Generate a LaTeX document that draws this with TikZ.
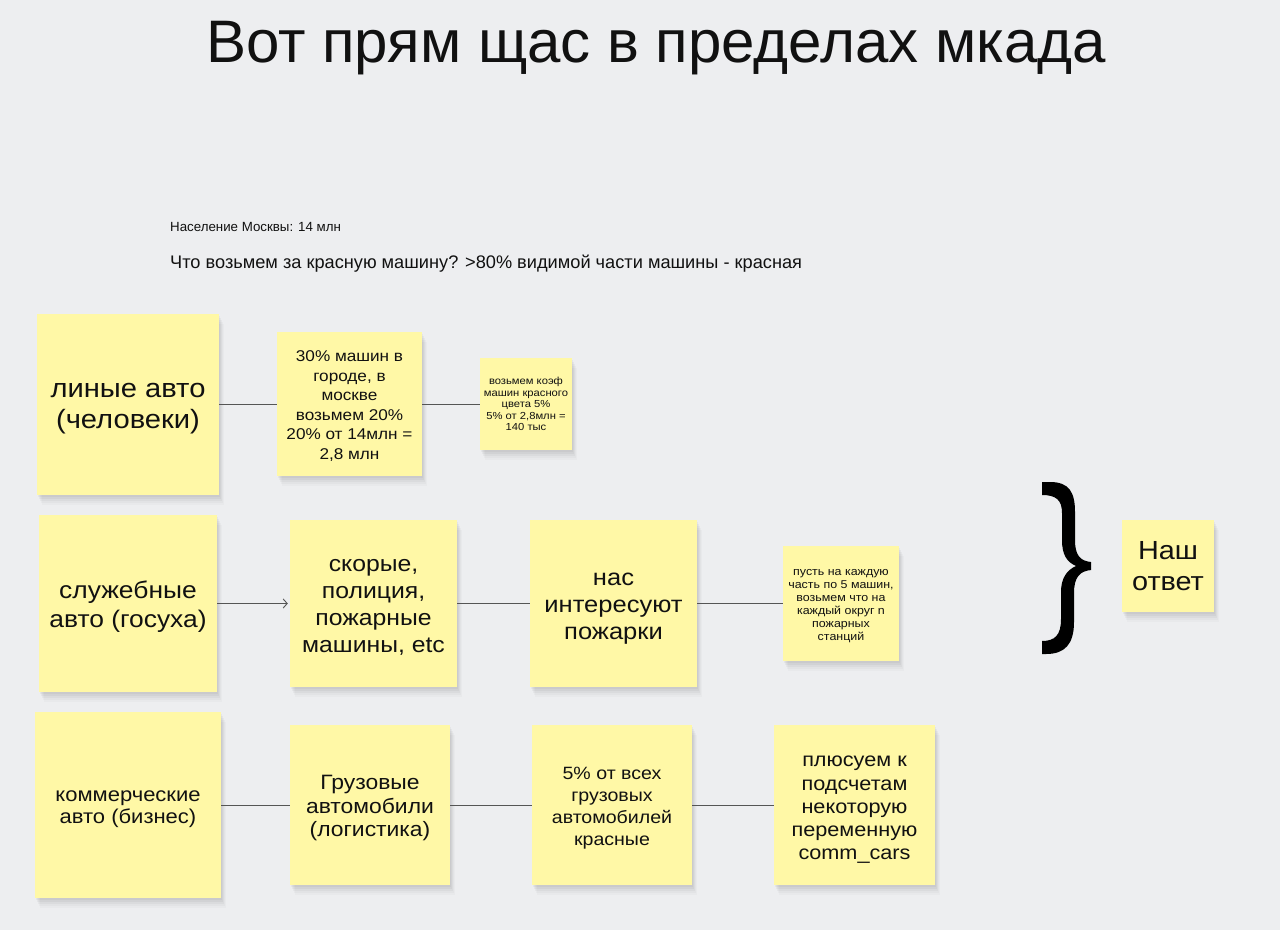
\documentclass[tikz,border=0pt]{standalone}
\usepackage{fontspec}
\setmainfont{Liberation Sans}
\newfontfamily\stk[FakeStretch=1.1]{Liberation Sans}
\usetikzlibrary{shadows,arrows.meta}
\definecolor{bgc}{HTML}{EDEEF0}
\definecolor{stickyc}{HTML}{FFF8A6}
\definecolor{linec}{HTML}{555555}
\definecolor{txtc}{HTML}{111111}
\newcommand{\fs}[2]{\fontsize{#1pt}{#2pt}\selectfont}
\tikzset{
  sticky/.style={fill=stickyc, inner sep=0pt,
    general shadow={fill=black, opacity=0.035, shadow xshift=1pt, shadow yshift=-2pt},
    general shadow={fill=black, opacity=0.035, shadow xshift=2pt, shadow yshift=-4pt},
    general shadow={fill=black, opacity=0.03, shadow xshift=3pt, shadow yshift=-6pt},
    general shadow={fill=black, opacity=0.025, shadow xshift=4pt, shadow yshift=-8pt},
    general shadow={fill=black, opacity=0.02, shadow xshift=5pt, shadow yshift=-10pt}},
  stext/.style={inner sep=0pt, align=center, text=txtc},
  conn/.style={draw=linec, line width=0.9pt},
  plain/.style={inner sep=0pt, text=txtc}
}
\begin{document}
\begin{tikzpicture}[x=1pt,y=-1pt]
\fill[bgc] (0,0) rectangle (1280,930);
\useasboundingbox (0,0) rectangle (1280,930);

\node[plain, font=\fs{60}{70}] (title) at (656,48) {Вот прям щас в пределах мкада};
\node[plain, anchor=west, font=\fs{13.3}{15}] (pop) at (170,227) {Население Москвы: 14 млн};
\node[plain, anchor=west, font=\fs{18.2}{20}] (q) at (170,264) {Что возьмем за красную машину? >80\% видимой части машины - красная};

% row 1 boxes
\node[sticky, minimum width=182pt, minimum height=181pt] (A1) at (128,404) {};
\node[sticky, minimum width=145pt, minimum height=144pt] (A2) at (349.5,404) {};
\node[sticky, minimum width=92pt, minimum height=92pt] (A3) at (526,404) {};
% row 2 boxes
\node[sticky, minimum width=178pt, minimum height=177pt] (B1) at (128,603.5) {};
\node[sticky, minimum width=167pt, minimum height=167pt] (B2) at (373.5,603.5) {};
\node[sticky, minimum width=167pt, minimum height=167pt] (B3) at (613.5,603.5) {};
\node[sticky, minimum width=116pt, minimum height=115pt] (B4) at (841,603.5) {};
% row 3 boxes
\node[sticky, minimum width=186pt, minimum height=186pt] (C1) at (128,805) {};
\node[sticky, minimum width=160pt, minimum height=160pt] (C2) at (370,805) {};
\node[sticky, minimum width=160pt, minimum height=160pt] (C3) at (612,805) {};
\node[sticky, minimum width=161pt, minimum height=160pt] (C4) at (854.5,805) {};
% answer box
\node[sticky, minimum width=92pt, minimum height=92pt] (ans) at (1168,566) {};

% texts
\node[stext, font=\stk\fs{26.5}{31}] (tA1) at ([yshift=-5pt]A1.center) {линые авто\\(человеки)};
\node[stext, font=\stk\fs{15.6}{19.5}] (tA2) at ([yshift=-2pt]A2.center) {30\% машин в\\городе, в\\москве\\возьмем 20\%\\20\% от 14млн =\\2,8 млн};
\node[stext, font=\stk\fs{10.2}{11.5}] (tA3) at (A3.center) {возьмем коэф\\машин красного\\цвета 5\%\\5\% от 2,8млн =\\140 тыс};
\node[stext, font=\stk\fs{24}{29}] (tB1) at ([yshift=-3pt]B1.center) {служебные\\авто (госуха)};
\node[stext, font=\stk\fs{22.5}{27}] (tB2) at ([yshift=-3.5pt]B2.center) {скорые,\\полиция,\\пожарные\\машины, etc};
\node[stext, font=\stk\fs{23.2}{27}] (tB3) at ([yshift=-5pt]B3.center) {нас\\интересуют\\пожарки};
\node[stext, font=\stk\fs{11.3}{13}] (tB4) at ([yshift=-3pt]B4.center) {пусть на каждую\\часть по 5 машин,\\возьмем что на\\каждый округ n\\пожарных\\станций};
\node[stext, font=\stk\fs{20}{22.5}] (tC1) at ([yshift=-4pt]C1.center) {коммерческие\\авто (бизнес)};
\node[stext, font=\stk\fs{20.8}{23.5}] (tC2) at ([yshift=-3pt]C2.center) {Грузовые\\автомобили\\(логистика)};
\node[stext, font=\stk\fs{17.8}{22}] (tC3) at ([yshift=-3pt]C3.center) {5\% от всех\\грузовых\\автомобилей\\красные};
\node[stext, font=\stk\fs{19.7}{23.2}] (tC4) at ([yshift=-5pt]C4.center) {плюсуем к\\подсчетам\\некоторую\\переменную\\comm\_cars};
\node[stext, font=\stk\fs{26.2}{31}] (tans) at (ans.center) {Наш\\ответ};

% connectors
\draw[conn] (A1.east) -- (A2.west);
\draw[conn] (A2.east) -- (A3.west);
\draw[conn, -{Straight Barb[length=4pt,width=9pt]}, shorten >=2pt] (B1.east) -- (B2.west);
\draw[conn] (B2.east) -- (B3.west);
\draw[conn] (B3.east) -- (B4.west);
\draw[conn] (C1.east) -- (C2.west);
\draw[conn] (C2.east) -- (C3.west);
\draw[conn] (C3.east) -- (C4.west);

% brace
\fill[black]
  (1042,482) -- (1050,482) .. controls (1069,482) and (1075,492) .. (1075,512)
  -- (1075,540) .. controls (1075,555) and (1080,561) .. (1091,562)
  -- (1091,570) .. controls (1080,571) and (1074,577) .. (1074,593)
  -- (1074,622) .. controls (1074,644) and (1065,654) .. (1046,654)
  -- (1042,654) -- (1042,641) .. controls (1055,641) and (1061,635) .. (1061,619)
  -- (1061,592) .. controls (1061,578) and (1067,570) .. (1076,566)
  .. controls (1067,562) and (1062,555) .. (1062,540)
  -- (1062,513) .. controls (1062,500) and (1056,495) .. (1042,495) -- cycle;
\end{tikzpicture}
\end{document}
